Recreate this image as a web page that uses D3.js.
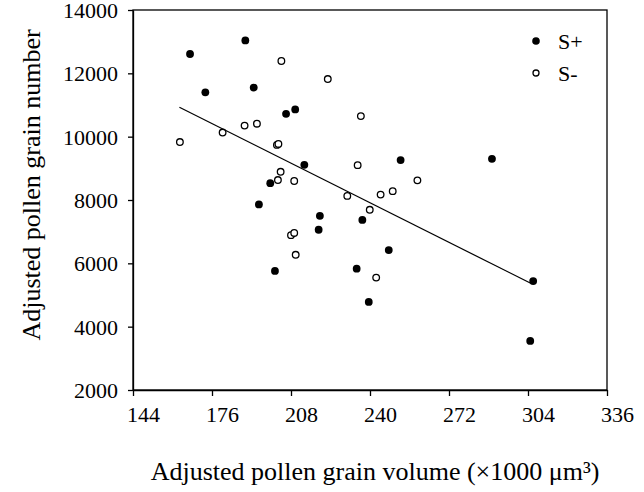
<!DOCTYPE html>
<html>
<head>
<meta charset="utf-8">
<script src="https://cdn.jsdelivr.net/npm/d3@7"></script>
<style>
  body { margin: 0; background: #fff; }
  svg text { font-family: "Liberation Serif", "Times New Roman", serif; fill: #000; }
</style>
</head>
<body>
<div id="chart"></div>
<script>
// S+ plants (filled)
const splusVolume = [167.1, 189.5, 173.3, 192.9, 206.0, 209.7, 213.4, 199.6, 195.0, 219.7,
                     219.2, 236.9, 247.6, 201.5, 234.6, 239.5, 252.4, 289.4, 306.1, 304.9];
const splusNumber = [12610, 13040, 11400, 11550, 10720, 10860, 9110, 8530, 7860, 7500,
                     7060, 7370, 6420, 5760, 5830, 4780, 9260, 9300, 5440, 3550];

// S- plants (open)
const sminusVolume = [204.1, 222.9, 163.0, 180.3, 189.2, 194.2, 236.3, 202.3, 202.9, 235.0, 203.8,
                      202.7, 209.3, 230.8, 244.3, 249.2, 259.2, 208.0, 209.3, 209.9, 239.9, 242.5];
const sminusNumber = [12390, 11820, 9830, 10130, 10350, 10410, 10650, 9740, 9770, 9100, 8890,
                      8630, 8600, 8130, 8170, 8280, 8620, 6890, 6960, 6270, 7690, 5550];

// regression line end points
const fitVolume = [162.8, 305.1];
const fitNumber = [10930, 5370];

const xTicks = [144, 176, 208, 240, 272, 304, 336];
const yTicks = [2000, 4000, 6000, 8000, 10000, 12000, 14000];
const legendLabels = ["S+", "S-"];

const width = 644, height = 492;
const margin = { left: 133, right: 37, top: 10, bottom: 102 };
const serif = "'Liberation Serif', 'Times New Roman', serif";

const svg = d3.select("#chart").append("svg")
    .attr("width", width)
    .attr("height", height);

const x = d3.scaleLinear().domain([144, 336]).range([margin.left, width - margin.right]);
const y = d3.scaleLinear().domain([2000, 14000]).range([height - margin.bottom, margin.top]);

// frame (top + right)
svg.append("rect")
    .attr("x", x(144))
    .attr("y", y(14000))
    .attr("width", x(336) - x(144))
    .attr("height", y(2000) - y(14000))
    .attr("fill", "none")
    .attr("stroke", "#000")
    .attr("stroke-width", 1.3);

// axes
const xAxis = svg.append("g")
    .attr("transform", `translate(0,${y(2000)})`)
    .call(d3.axisBottom(x).tickValues(xTicks).tickFormat(d3.format("d"))
        .tickSize(6).tickSizeOuter(0).tickPadding(10));

const yAxis = svg.append("g")
    .attr("transform", `translate(${x(144)},0)`)
    .call(d3.axisLeft(y).tickValues(yTicks).tickFormat(d3.format("d"))
        .tickSize(5).tickSizeOuter(0).tickPadding(10));

[xAxis, yAxis].forEach(g => {
    g.attr("font-family", serif).attr("font-size", 22);
    g.selectAll("path, line").attr("stroke", "#000").attr("stroke-width", 1.3);
    g.selectAll("text").attr("fill", "#000");
});
xAxis.selectAll("text").attr("dx", 10);
yAxis.selectAll("text").attr("dy", "0.34em");

// axis titles
svg.append("text")
    .attr("x", 375)
    .attr("y", 480)
    .attr("text-anchor", "middle")
    .style("font-size", "26px")
    .text("Adjusted pollen grain volume (×1000 μm³)");

svg.append("text")
    .attr("transform", `translate(40,185) rotate(-90)`)
    .attr("text-anchor", "middle")
    .style("font-size", "26px")
    .text("Adjusted pollen grain number");

// regression line
svg.append("line")
    .attr("x1", x(fitVolume[0]))
    .attr("y1", y(fitNumber[0]))
    .attr("x2", x(fitVolume[1]))
    .attr("y2", y(fitNumber[1]))
    .attr("stroke", "#000")
    .attr("stroke-width", 1.2);

// points
svg.append("g")
    .selectAll("circle")
    .data(d3.range(sminusVolume.length))
    .join("circle")
    .attr("cx", i => x(sminusVolume[i]))
    .attr("cy", i => y(sminusNumber[i]))
    .attr("r", 3.3)
    .attr("fill", "#fff")
    .attr("stroke", "#000")
    .attr("stroke-width", 1.3);

svg.append("g")
    .selectAll("circle")
    .data(d3.range(splusVolume.length))
    .join("circle")
    .attr("cx", i => x(splusVolume[i]))
    .attr("cy", i => y(splusNumber[i]))
    .attr("r", 3.9)
    .attr("fill", "#000");

// legend
const legend = svg.append("g").attr("transform", "translate(536,41)");
legend.selectAll("circle")
    .data(legendLabels)
    .join("circle")
    .attr("cx", 0)
    .attr("cy", (d, i) => i * 32)
    .attr("r", (d, i) => i === 0 ? 3.8 : 3)
    .attr("fill", (d, i) => i === 0 ? "#000" : "#fff")
    .attr("stroke", "#000")
    .attr("stroke-width", (d, i) => i === 0 ? 0 : 1.3);
legend.selectAll("text")
    .data(legendLabels)
    .join("text")
    .attr("x", 22)
    .attr("y", (d, i) => i * 32 + 8)
    .style("font-size", "22px")
    .text(d => d);
</script>
</body>
</html>
